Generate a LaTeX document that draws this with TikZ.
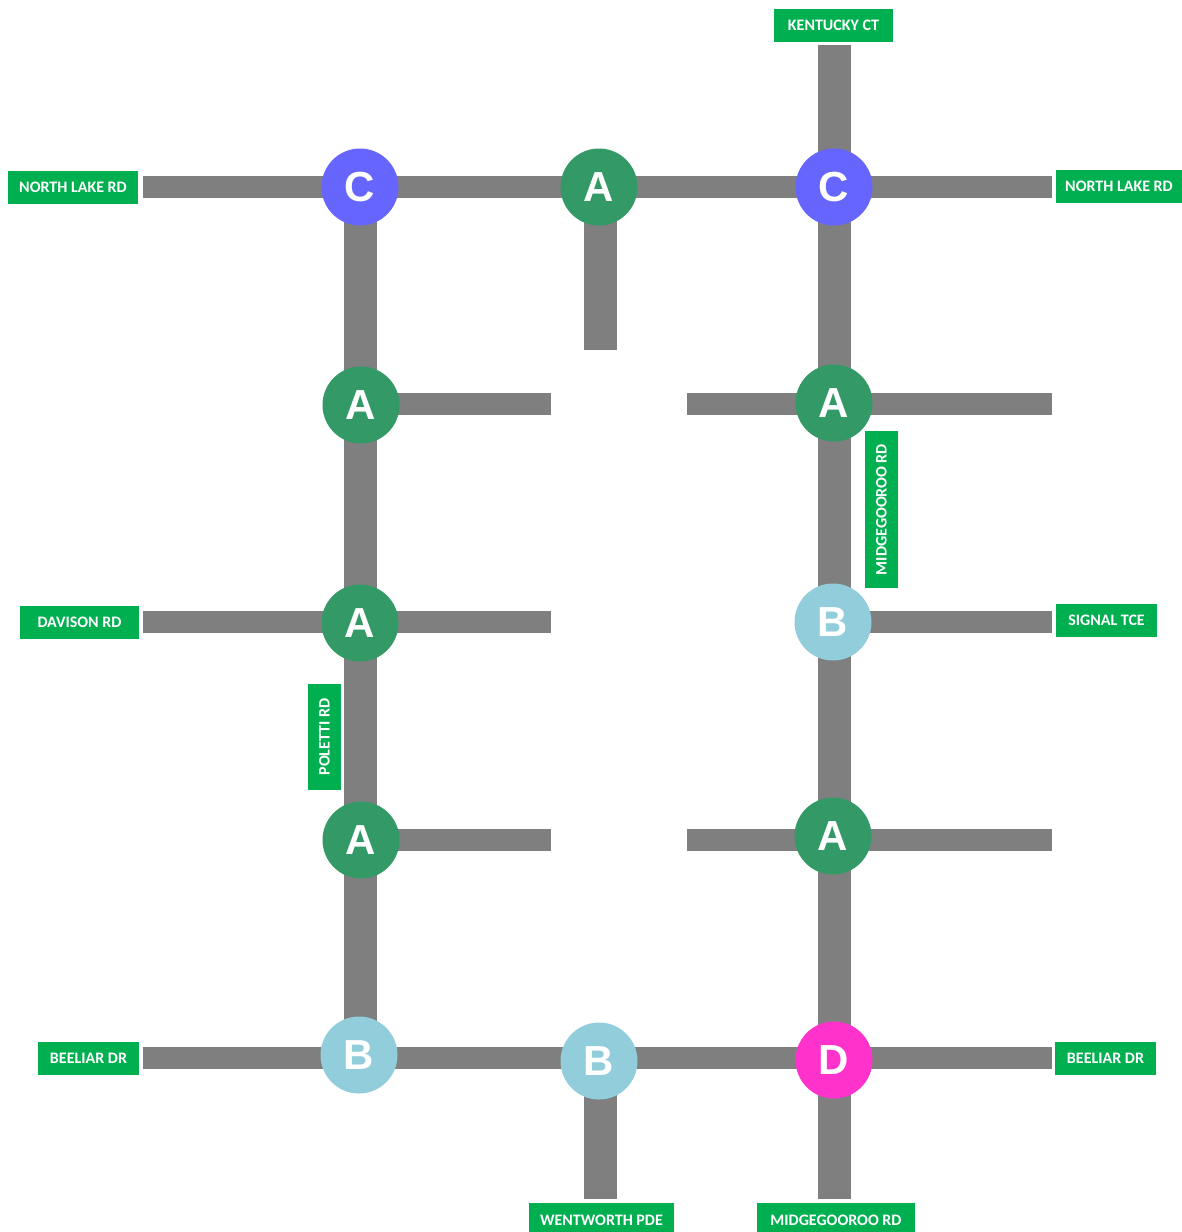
\documentclass[tikz,border=0pt]{standalone}
\usepackage{fontspec}
\setmainfont{Carlito}
\newfontfamily\circfont{Liberation Sans}
\usetikzlibrary{backgrounds}
\definecolor{road}{HTML}{7F7F7F}
\definecolor{lblgreen}{HTML}{00B050}
\definecolor{cC}{HTML}{6666FF}
\definecolor{cA}{HTML}{339966}
\definecolor{cB}{HTML}{92CDDC}
\definecolor{cD}{HTML}{FF33CC}
\tikzset{
  junction/.style={circle,minimum size=38.5pt,inner sep=0pt,text=white,font=\circfont\bfseries\fontsize{21}{21}\selectfont},
  jA/.style={junction,fill=cA},
  jB/.style={junction,fill=cB},
  jC/.style={junction,fill=cC},
  jD/.style={junction,fill=cD},
  hroad/.style={draw=road,line width=11pt},
  vroad/.style={draw=road,line width=16.5pt},
  lbl/.style={fill=lblgreen,text=white,inner sep=0pt,font=\bfseries\fontsize{8}{8}\selectfont,minimum height=16.5pt},
}
\begin{document}
\begin{tikzpicture}[x=0.5pt,y=-0.5pt]
\useasboundingbox (0,0) rectangle (1182,1232);
% junctions
\node[jC] (c1) at (360,187) {C};
\node[jA] (a0) at (599,187) {A};
\node[jC] (c2) at (834,187) {C};
\node[jA] (a1) at (361,405) {A};
\node[jA] (a2) at (834,403) {A};
\node[jA] (a3) at (360,623) {A};
\node[jB] (b1) at (833,622) {B};
\node[jA] (a4) at (361,840) {A};
\node[jA] (a5) at (833,836) {A};
\node[jB] (b2) at (359,1055) {B};
\node[jB] (b3) at (599,1061) {B};
\node[jD] (d1) at (834,1060) {D};
% road ends
\coordinate (nlW) at (143,187);
\coordinate (nlE) at (1052,187);
\coordinate (kyN) at (834,45);
\coordinate (mstub) at (600,350);
\coordinate (r2a) at (551,404);
\coordinate (r2b) at (687,404);
\coordinate (r2E) at (1052,404);
\coordinate (dvW) at (143,622);
\coordinate (r3a) at (551,622);
\coordinate (sgE) at (1052,622);
\coordinate (r4a) at (551,840);
\coordinate (r4b) at (687,840);
\coordinate (r4E) at (1052,840);
\coordinate (blW) at (143,1058);
\coordinate (blE) at (1052,1058);
\coordinate (wwS) at (600,1199);
\coordinate (mgS) at (834,1199);
\begin{scope}[on background layer]
% horizontal roads
\path[hroad] (nlW) -- (nlE);
\path[hroad] (360,404) -- (r2a);
\path[hroad] (r2b) -- (r2E);
\path[hroad] (dvW) -- (r3a);
\path[hroad] (834,622) -- (sgE);
\path[hroad] (360,840) -- (r4a);
\path[hroad] (r4b) -- (r4E);
\path[hroad] (blW) -- (blE);
% vertical roads
\path[vroad] (360,187) -- (360,1058);
\path[vroad] (kyN) -- (mgS);
\path[vroad] (600,187) -- (mstub);
\path[vroad] (600,1058) -- (wwS);
\end{scope}
% labels
\node[lbl,minimum width=59.5pt] (lky) at (833.5,25.5) {KENTUCKY CT};
\node[lbl,minimum width=65pt] (lnlW) at (73,187.5) {NORTH LAKE RD};
\node[lbl,minimum width=63pt] (lnlE) at (1119,186.5) {NORTH LAKE RD};
\node[lbl,minimum width=78.5pt,rotate=90] (lmg) at (881.5,509.5) {MIDGEGOOROO RD};
\node[lbl,minimum width=50.5pt] (lsg) at (1106.5,620.5) {SIGNAL TCE};
\node[lbl,minimum width=59.5pt] (ldv) at (79.5,622) {DAVISON RD};
\node[lbl,minimum width=53pt,rotate=90] (lpl) at (324.5,737) {POLETTI RD};
\node[lbl,minimum width=50.5pt] (lblW) at (88.5,1058) {BEELIAR DR};
\node[lbl,minimum width=50.5pt] (lblE) at (1105.5,1058) {BEELIAR DR};
\node[lbl,minimum width=72.5pt,minimum height=17pt] (lww) at (601.5,1220) {WENTWORTH PDE};
\node[lbl,minimum width=79pt,minimum height=17pt] (lmgS) at (836,1220) {MIDGEGOOROO RD};
\end{tikzpicture}
\end{document}
